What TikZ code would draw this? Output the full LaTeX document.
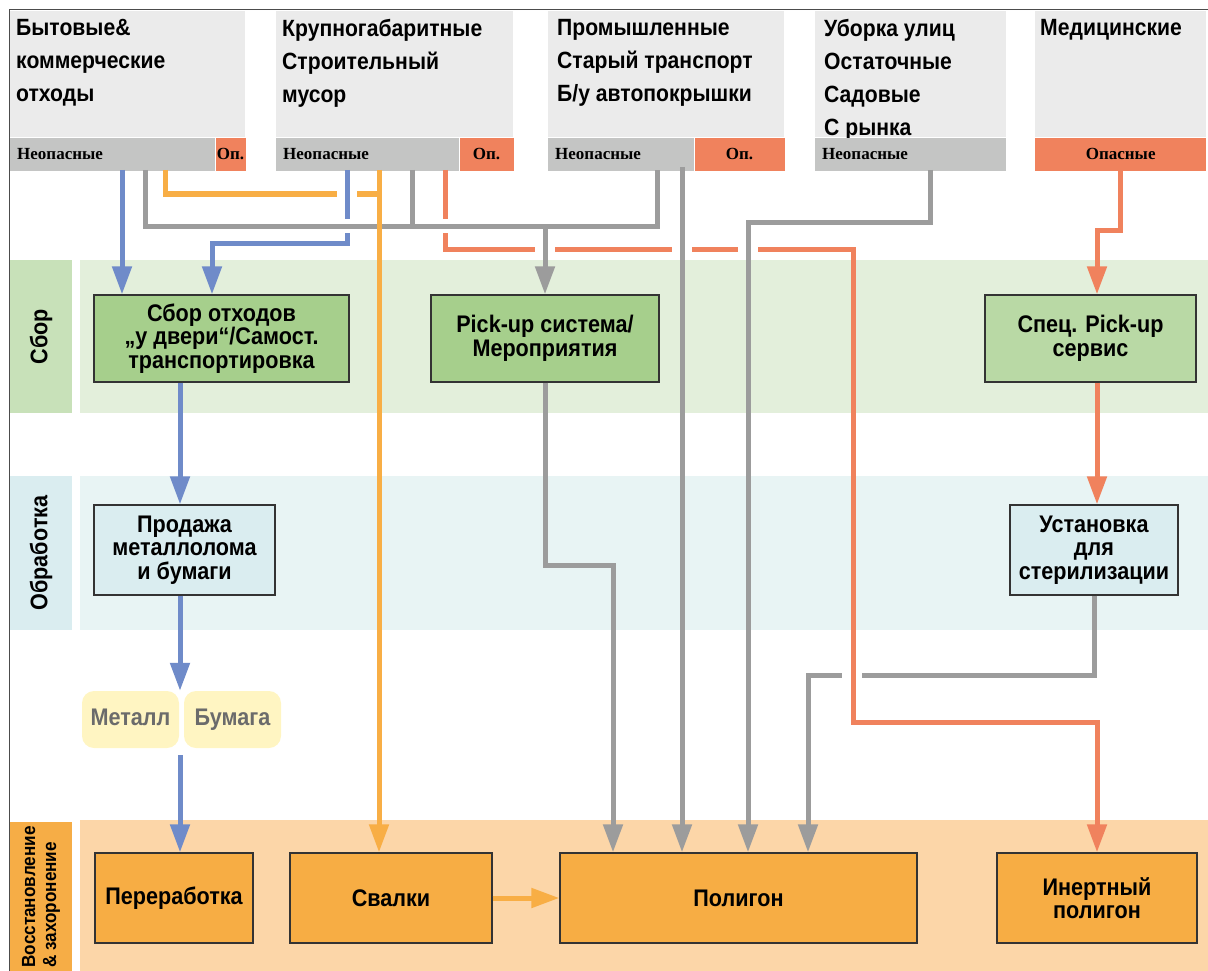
\documentclass[tikz,border=0pt]{standalone}
\usepackage{fontspec}
\setsansfont{Liberation Sans}[FakeStretch=0.9]
\newfontfamily\stripfont{Liberation Serif}
\usetikzlibrary{arrows.meta, positioning}
\definecolor{cblue}{HTML}{6F8BC9}
\definecolor{cgrey}{HTML}{9C9C9C}
\definecolor{cyell}{HTML}{F8AE45}
\definecolor{csalm}{HTML}{F0825D}
\definecolor{hdfill}{HTML}{EBEBEB}
\definecolor{hdstrip}{HTML}{C4C5C4}
\definecolor{grband}{HTML}{E3EFDB}
\definecolor{grlab}{HTML}{C8E1B9}
\definecolor{grbox}{HTML}{A6CF8C}
\definecolor{grboxl}{HTML}{B9D9A5}
\definecolor{blband}{HTML}{E8F4F4}
\definecolor{bllab}{HTML}{DAEDF0}
\definecolor{blbox}{HTML}{DAEDF0}
\definecolor{orband}{HTML}{FCD6A8}
\definecolor{orlab}{HTML}{F6AD46}
\definecolor{orbox}{HTML}{F7AD44}
\definecolor{ylbox}{HTML}{FFF5C2}
\definecolor{ylt}{HTML}{6B6B6B}
\tikzset{
  every picture/.style={font=\sffamily\bfseries},
  head/.style={fill=hdfill, anchor=north west, minimum height=126pt, inner sep=0pt},
  headtxt/.style={anchor=north west, align=left, inner sep=0pt, font=\sffamily\bfseries\fontsize{23.5}{33}\selectfont},
  strip/.style={fill=#1, anchor=north west, minimum height=33pt, inner ysep=0pt, inner xsep=7pt, align=left, font=\stripfont\bfseries\fontsize{17}{20}\selectfont},
  strip/.default=hdstrip,
  band/.style={fill=#1, anchor=north west, inner sep=0pt},
  sidelab/.style={fill=#1, rotate=90, inner sep=0pt, align=left, font=\sffamily\bfseries\fontsize{24}{24}\selectfont},
  box/.style={draw=black!80, fill=#1, line width=1.3pt, align=center, inner sep=2pt, font=\sffamily\bfseries\fontsize{24}{23.5}\selectfont},
  chip/.style={fill=ylbox, rounded corners=12pt, text=ylt, minimum width=97pt, minimum height=57pt, inner sep=0pt, text height=17pt, text depth=5pt, font=\sffamily\bfseries\fontsize{24}{24}\selectfont},
  link/.style={draw=#1, line width=5pt},
  flow/.style={link=#1, -{Triangle[length=28pt, width=19pt]}},
}
% white break where one line passes under another
\newcommand{\hgap}[2]{\fill[white] (#1-10,#2-4.5) rectangle (#1+10,#2+4.5);}
\newcommand{\vgap}[2]{\fill[white] (#1-4.5,#2-7) rectangle (#1+4.5,#2+7);}

\begin{document}
\begin{tikzpicture}[x=1pt, y=-1pt]
  \useasboundingbox (0,0) rectangle (1208,971);
  % stages
  \node[band=grband, minimum width=1128pt, minimum height=153pt] (rsbor) at (80,260) {};
  \node[band=blband, minimum width=1128pt, minimum height=154pt] (robr) at (80,476) {};
  \node[band=orband, minimum width=1128pt, minimum height=151pt] (rvos) at (80,820) {};
  \node[sidelab=grlab, minimum width=153pt, minimum height=62pt] (lsbor) at (41,336.5) {Сбор};
  \node[sidelab=bllab, minimum width=154pt, minimum height=62pt] (lobr) at (41,553) {Обработка};
  \node[sidelab=orlab, minimum width=151pt, minimum height=62pt, font=\sffamily\bfseries\fontsize{19}{21}\selectfont] (lvos) at (41,897) {Восстановление\\\& захоронение};
  \draw[black!70, line width=1pt] (9,971) -- (9,10) -- (1208,10);

  % waste sources
  \node[head, minimum width=235pt] (h1) at (10,11) {};
  \node[headtxt] (h1t) at (16,19) {Бытовые\&\\коммерческие\\отходы};
  \node[strip, text width=191pt] (h1n) at (h1.south west) {Неопасные};
  \node[strip=csalm, inner xsep=0pt, minimum width=30pt, right=0pt of h1n] (h1d) {Оп.};

  \node[head, minimum width=237pt] (h2) at (276,11) {};
  \node[headtxt] (h2t) at (282,19) {Крупногабаритные\\Строительный\\мусор};
  \node[strip, text width=169pt] (h2n) at (h2.south west) {Неопасные};
  \node[strip=csalm, inner xsep=0pt, minimum width=54pt, right=0pt of h2n] (h2d) {Оп.};

  \node[head, minimum width=236pt] (h3) at (548,11) {};
  \node[headtxt] (h3t) at (557,19) {Промышленные\\Старый транспорт\\Б/у автопокрышки};
  \node[strip, text width=132pt] (h3n) at (h3.south west) {Неопасные};
  \node[strip=csalm, inner xsep=0pt, minimum width=90pt, right=0pt of h3n] (h3d) {Оп.};

  \node[head, minimum width=191pt] (h4) at (815,11) {};
  \node[headtxt] (h4t) at (824,19) {Уборка улиц\\Остаточные\\Садовые\\С рынка};
  \node[strip, text width=177pt] (h4n) at (h4.south west) {Неопасные};

  \node[head, minimum width=171pt] (h5) at (1035,11) {};
  \node[headtxt] (h5t) at (1040,19) {Медицинские};
  \node[strip=csalm, inner xsep=0pt, minimum width=171pt, align=center] (h5d) at (h5.south west) {Опасные};

  % steps
  \node[box=grbox, minimum width=255pt, minimum height=87pt] (sbor) at (221.5,338.5) {Сбор отходов\\„у двери“/Самост.\\транспортировка};
  \node[box=grbox, minimum width=228pt, minimum height=87pt] (pickup) at (545,338.5) {Pick-up система/\\Мероприятия};
  \node[box=grboxl, minimum width=211pt, minimum height=87pt] (spec) at (1090.5,338.5) {Спец. Pick-up\\сервис};
  \node[box=blbox, minimum width=181pt, minimum height=90pt] (prod) at (184.5,550) {Продажа\\металлолома\\и бумаги};
  \node[box=blbox, minimum width=168pt, minimum height=90pt] (ster) at (1094,550) {Установка\\для\\стерилизации};
  \node[chip] (metal) at (130.5,719.5) {Металл};
  \node[chip] (paper) at (232.5,719.5) {Бумага};
  \node[box=orbox, minimum width=158pt, minimum height=90pt] (recyc) at (174,898) {Переработка};
  \node[box=orbox, minimum width=202pt, minimum height=90pt] (dump) at (391,898) {Свалки};
  \node[box=orbox, minimum width=357pt, minimum height=90pt] (landfill) at (738.5,898) {Полигон};
  \node[box=orbox, minimum width=200pt, minimum height=90pt] (inert) at (1097,898) {Инертный\\полигон};

  % lanes and bends
  \coordinate (or1) at (165,170);  \coordinate (or1a) at (165,194);
  \coordinate (or2) at (379,170);  \coordinate (or1b) at (379,194);
  \coordinate (bl1) at (122,170);
  \coordinate (bl2) at (347,170);  \coordinate (bl2a) at (347,243);  \coordinate (bl2b) at (212,243);
  \coordinate (bl3) at (180,0);    \coordinate (bl3a) at (180,755);
  \coordinate (gr1) at (145,170);  \coordinate (gr1a) at (145,226);
  \coordinate (gr2) at (412,170);  \coordinate (gr2a) at (412,226);
  \coordinate (gr3) at (657,170);  \coordinate (gr3a) at (657,226);
  \coordinate (gr4) at (682,167);
  \coordinate (gr5) at (930,170);  \coordinate (gr5a) at (930,222);  \coordinate (gr5b) at (748,222);
  \coordinate (gr6a) at (545,565); \coordinate (gr6b) at (613,565);
  \coordinate (gr7a) at (1094,675); \coordinate (gr7b) at (808,675);
  \coordinate (sa1) at (445,170);  \coordinate (sa1a) at (445,249);  \coordinate (sa1b) at (853,249);
  \coordinate (sa1c) at (853,722); \coordinate (sa1d) at (1097,722);
  \coordinate (sa2) at (1120,170); \coordinate (sa2a) at (1120,230); \coordinate (sa2b) at (1097,230);

  % flows
  \draw[link=cyell] (or1) -- (or1a) -- (or1b);
  \hgap{347}{194}
  \draw[flow=cblue] (bl1) -- (bl1 |- sbor.north);
  \draw[flow=cblue] (bl2) -- (bl2a) -- (bl2b) -- (bl2b |- sbor.north);
  \draw[flow=cblue] (sbor.south -| bl3) -- (prod.north -| bl3);
  \draw[flow=cblue] (prod.south -| bl3) -- (metal.north -| bl3);
  \draw[flow=cblue] (bl3a) -- (recyc.north -| bl3);

  \draw[flow=cgrey] (ster.south) -- (gr7a) -- (gr7b) -- (gr7b |- landfill.north);
  \hgap{852}{675}
  \draw[flow=csalm] (sa1) -- (sa1a) -- (sa1b) -- (sa1c) -- (sa1d) -- (sa1d |- inert.north);
  \draw[flow=csalm] (sa2) -- (sa2a) -- (sa2b) -- (sa2b |- spec.north);
  \draw[flow=csalm] (spec.south -| sa2b) -- (ster.north -| sa2b);

  \vgap{445}{226} \vgap{347}{226}
  \hgap{545}{249} \hgap{682}{249} \hgap{748}{249}
  \draw[link=cgrey] (gr1) -- (gr1a) -- (gr3a) -- (gr3);
  \draw[link=cgrey] (gr2) -- (gr2a);
  \draw[flow=cgrey] (pickup.north |- gr1a) -- (pickup.north);
  \draw[flow=cgrey] (gr4) -- (gr4 |- landfill.north);
  \draw[flow=cgrey] (gr5) -- (gr5a) -- (gr5b) -- (gr5b |- landfill.north);
  \draw[flow=cgrey] (pickup.south) -- (gr6a) -- (gr6b) -- (gr6b |- landfill.north);

  \draw[flow=cyell] (or2) -- (or2 |- dump.north);
  \draw[flow=cyell] (dump) -- (landfill);
\end{tikzpicture}
\end{document}
